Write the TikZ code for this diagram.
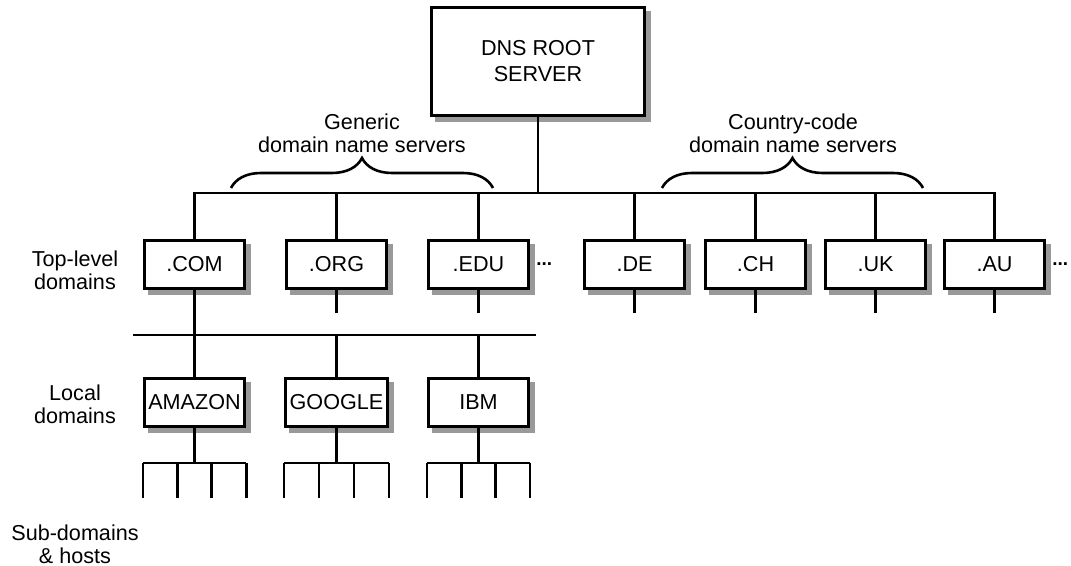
\documentclass[tikz,border=0pt]{standalone}
\usepackage{fontspec}
\setmainfont{Liberation Sans}
\usetikzlibrary{positioning,calc,backgrounds,decorations.pathreplacing}
\definecolor{shadegray}{HTML}{999999}
\tikzset{
  box/.style={draw, line width=1.5pt, fill=white, minimum width=50pt, minimum height=24pt, inner sep=2pt, font=\fontsize{10.8}{13}\selectfont},
  rootbox/.style={box, minimum width=106.5pt, minimum height=54pt, align=center},
  boxshadow/.style={fill=shadegray},
  wire/.style={line width=1.3pt},
  lbl/.style={align=center, font=\fontsize{10.8}{11.5}\selectfont},
  dotsn/.style={inner sep=0pt, font=\fontsize{9.5}{9.5}\selectfont\bfseries},
  brc/.style={decorate, decoration={brace, amplitude=15pt}, line width=1.3pt},
}

\begin{document}
\begin{tikzpicture}[x=0.5pt, y=-0.5pt, node distance=43.5pt and 19.5pt]
  \useasboundingbox (0,0) rectangle (1071,566);
  \node[rootbox] (root) at (538,61.5) {DNS ROOT\\SERVER};
  % top-level domains
  \node[box] (com) at (194.5,264.5) {.COM};
  \node[box, right=of com] (org) {.ORG};
  \node[box, right=of org] (edu) {.EDU};
  \node[box, right=26.5pt of edu] (de) {.DE};
  \node[box, right=9pt of de] (ch) {.CH};
  \node[box, right=8.5pt of ch] (uk) {.UK};
  \node[box, right=8pt of uk] (au) {.AU};
  \node[dotsn, right=3pt of edu] (edudots) {...};
  \node[dotsn, right=3pt of au] (audots) {...};
  % local domains
  \node[box, below=of com] (amazon) {AMAZON};
  \node[box, below=of org] (google) {GOOGLE};
  \node[box, below=of edu] (ibm) {IBM};
  % shadows behind the boxes
  \begin{scope}[on background layer]
    \foreach \d in {root,com,org,edu,de,ch,uk,au,amazon,google,ibm}
      \fill[boxshadow] ([shift={(2.5pt,-2.5pt)}]\d.south west) rectangle ([shift={(2.5pt,-2.5pt)}]\d.north east);
  \end{scope}
  % labels
  \node[lbl] (toplbl) at (75,270) {Top-level\\domains};
  \node[lbl] (loclbl) at (75,404) {Local\\domains};
  \node[lbl] (sublbl) at (75,544) {Sub-domains\\\& hosts};
  \node[lbl] (genlbl) at (362,133) {Generic\\domain name servers};
  \node[lbl] (cclbl) at (793,133) {Country-code\\domain name servers};
  % wiring
  \coordinate (bus) at (538,193);
  \coordinate (lan) at (133,335);
  \coordinate (lanend) at (536,335);
  \draw[wire] (root.south) -- (bus);
  \draw[wire] (com.north) -- (com.north |- bus) -- (au.north |- bus) -- (au.north);
  \foreach \d in {org,edu,de,ch,uk}
    \draw[wire] (\d.north) -- (\d.north |- bus);
  \foreach \d in {org,edu,de,ch,uk,au}
    \draw[wire] (\d.south) -- ++(0,23);
  \draw[wire] (com.south) -- (amazon.north);
  \draw[wire] (lan) -- (lanend);
  \foreach \d in {google,ibm}
    \draw[wire] (\d.north) -- (\d.north |- lan);
  \foreach \d in {amazon,google,ibm} {
    \draw[wire] (\d.south) -- ++(0,35);
    \draw[wire] ($(\d.south west)+(0,35)$) -- ($(\d.south east)+(0,35)$);
    \foreach \f in {0,0.3333,0.6667,1}
      \draw[wire] ($(\d.south west)!\f!(\d.south east)+(0,35)$) -- ++(0,35);
  }
  % braces
  \draw[brc] (231,188) -- (493,188);
  \draw[brc] (662,188) -- (923,188);
\end{tikzpicture}
\end{document}
